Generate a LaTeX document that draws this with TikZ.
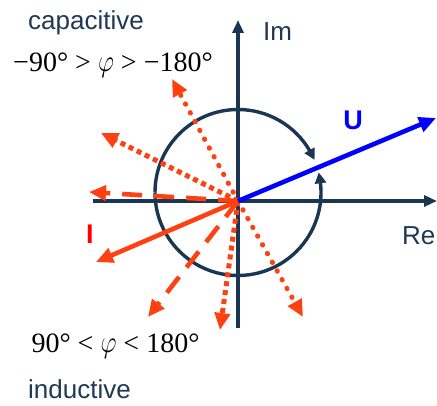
\documentclass[tikz,border=0pt]{standalone}
\usepackage{graphicx}
\usepackage{fontspec}
\setmainfont{Liberation Sans}
\newfontfamily\serifnum{Liberation Serif}
\usetikzlibrary{arrows.meta,bending}
\definecolor{navy}{RGB}{27,54,82}
\definecolor{ored}{RGB}{255,64,16}
\definecolor{ublue}{RGB}{0,0,255}
\definecolor{ired}{RGB}{255,0,0}
\definecolor{txt}{RGB}{31,56,84}
\newcommand{\bigphi}{\scalebox{1.0}[1.25]{$\varphi$}}
\begin{document}
\begin{tikzpicture}[x=1pt,y=-1pt,
 axis/.style={draw=navy,line width=3.4pt,-{Triangle[length=13pt,width=11pt]}},
 circ/.style={draw=navy,line width=3.4pt,-{Triangle[length=11pt,width=11pt,bend]}},
 phasor/.style={line width=4.6pt,-{Triangle[length=17pt,width=15pt]}},
 solidph/.style={phasor,draw=ored,fill=ored},
 dashph/.style={phasor,draw=ored,dash pattern=on 20pt off 12pt},
 dotround/.style={phasor,line width=5pt,draw=ored,line cap=round,dash pattern=on 0.5pt off 9.5pt},
 dotsq/.style={phasor,line width=5pt,draw=ored,dash pattern=on 5pt off 4pt},
 lbl/.style={font=\fontsize{26}{30}\selectfont,text=txt,inner sep=0pt,anchor=base west},
 mathlbl/.style={font=\fontsize{28}{32}\selectfont\serifnum,inner sep=0pt,anchor=base},
 vlbl/.style={font=\fontsize{27}{30}\selectfont\bfseries,inner sep=0pt}
]
\useasboundingbox (0,0) rectangle (437,406);
% coordinates
\coordinate (O) at (238,201);
\coordinate (C) at (238,192.5);
\coordinate (xs) at (93,201);
\coordinate (xe) at (437,201);
\coordinate (ys) at (238,328);
\coordinate (ye) at (238,20);
\coordinate (Ut) at (436,118);
\coordinate (It) at (96,262);
\coordinate (dl) at (89,192);
\coordinate (ddl) at (148,317);
\coordinate (dul) at (101,133);
\coordinate (du) at (172,79);
\coordinate (dd) at (220,330);
\coordinate (ddr) at (303,317);
\coordinate (arcA) at (155,192.5);
% axes
\draw[axis] (xs) -- (xe);
\draw[axis] (ys) -- (ye);
% circle arcs
\draw[circ] (arcA) arc[start angle=-180,end angle=-23,radius=83];
\draw[circ] (arcA) arc[start angle=-180,end angle=-374,radius=83];
% phasors
\draw[dotsq] (O) -- (dul);
\draw[dotround] (O) -- (du);
\draw[dashph] (O) -- (dl);
\draw[dashph] (O) -- (ddl);
\draw[dotsq] (O) -- (dd);
\draw[dotround] (O) -- (ddr);
\draw[solidph] (O) -- (It);
\draw[phasor,draw=ublue,fill=ublue] (O) -- (Ut);
% labels
\node[lbl] (cap) at (28,30) {capacitive};
\node[lbl] (ind) at (28,399) {inductive};
\node[lbl] (im) at (263,41) {Im};
\node[lbl] (re) at (402,245) {Re};
\node[vlbl,text=ublue] (u) at (353,120) {U};
\node[vlbl,text=ired] (i) at (90,234.5) {I};
\node[mathlbl] (m1) at (113,72) {−90° > \bigphi{} > −180°};
\node[mathlbl] (m2) at (115.5,353) {90° < \bigphi{} < 180°};
\end{tikzpicture}
\end{document}
